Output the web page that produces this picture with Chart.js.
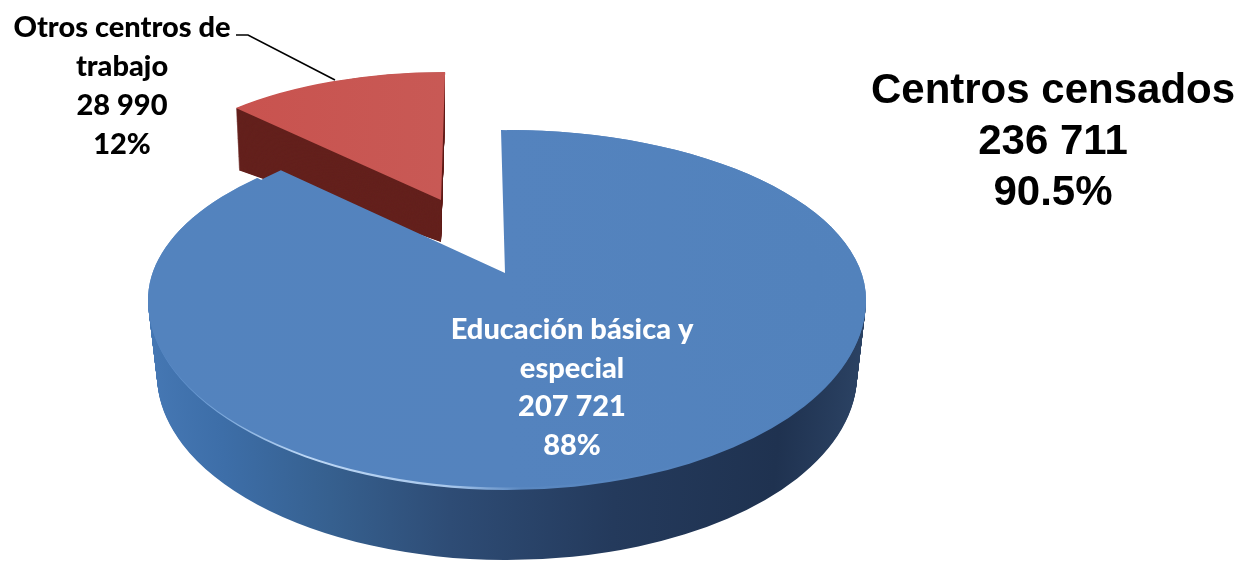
<!DOCTYPE html>
<html lang="es">
<head>
<meta charset="utf-8">
<title>Centros censados</title>
<script src="https://cdn.jsdelivr.net/npm/chart.js@4"></script>
<style>
  html, body { margin: 0; padding: 0; background: #fff; }
  canvas { display: block; filter: blur(0.6px); }
</style>
</head>
<body>
<canvas id="chartCentros" width="1243" height="561"></canvas>
<script>
const categories = ['Educación básica y especial', 'Otros centros de trabajo'];
const centerCounts = [207721, 28990];
const sharePercents = ['88%', '12%'];
const blueLabelLines = ['Educación básica y', 'especial'];
const redLabelLines = ['Otros centros de', 'trabajo'];
const titleLines = ['Centros censados', '236 711', '90.5%'];

// piece geometry on the page, the pie is perspective so nothing is a plain circle
const blueRim = { cx: 507, cy: 300, rx: 359, ryTop: 170, ryBottom: 190 };
const blueCore = { cx: 505, cy: 273, rx: 318, ryTop: 143, ryBottom: 143, shear: 0.028 };
const blueDepth = { drop: 75, rx: 350, ryBottom: 185 };
const redFace = { cx: 441, cy: 200, rx: 299, ryTop: 128, ryBottom: 128, shear: -0.032 };
const redDepth = { drop: 42, rx: 294, ryTop: 100 };

function fmtCount(n) {
  return String(n).replace(/\B(?=(\d{3})+$)/g, ' ');
}

function paintArc(ctx, arc, fill) {
  const saved = arc.options;
  arc.options = Object.assign({}, saved, { backgroundColor: fill, borderWidth: 0 });
  arc.draw(ctx);
  arc.options = saved;
}

function paintBand(ctx, arc, p, fill, band) {
  const R = arc.outerRadius;
  const ry = band === 'top' ? p.ryTop : p.ryBottom;
  ctx.save();
  ctx.beginPath();
  if (band === 'top') ctx.rect(0, 0, 1243, p.cy + 0.5);
  else ctx.rect(0, p.cy, 1243, 561);
  ctx.clip();
  ctx.translate(p.cx, p.cy);
  if (p.shear) ctx.transform(1, 0, p.shear, 1, 0, 0);
  ctx.scale(p.rx / R, ry / R);
  ctx.translate(-arc.x, -arc.y);
  paintArc(ctx, arc, fill);
  ctx.restore();
}

function sideGradient(ctx, arc, stops) {
  const R = arc.outerRadius;
  const g = ctx.createLinearGradient(arc.x - R, 0, arc.x + R, 0);
  stops.forEach(s => g.addColorStop(s[0], s[1]));
  return g;
}

function paintRed(ctx, arc) {
  const steps = redDepth.drop * 3;
  for (let i = steps; i >= 1; i--) {
    const t = i / steps;
    paintBand(ctx, arc, {
      cx: redFace.cx,
      cy: redFace.cy + redDepth.drop * t,
      rx: redFace.rx + (redDepth.rx - redFace.rx) * t,
      ryTop: redFace.ryTop + (redDepth.ryTop - redFace.ryTop) * t,
      shear: redFace.shear
    }, '#64211d', 'top');
  }
  const face = sideGradient(ctx, arc, [[0, '#c9504c'], [0.55, '#c85a56'], [1, '#bd5e5a']]);
  paintBand(ctx, arc, redFace, face, 'top');
}

function paintBlue(ctx, arc) {
  const side = sideGradient(ctx, arc, [
    [0, '#4577b3'], [0.1, '#3d6ea8'], [0.25, '#36608f'], [0.42, '#2e4c75'],
    [0.65, '#243a5c'], [0.88, '#1f3250'], [1, '#2b4263']
  ]);
  const steps = blueDepth.drop;
  for (let i = steps; i >= 1; i--) {
    const t = i / steps;
    paintBand(ctx, arc, {
      cx: blueRim.cx,
      cy: blueRim.cy + blueDepth.drop * t,
      rx: blueRim.rx + (blueDepth.rx - blueRim.rx) * t,
      ryBottom: blueRim.ryBottom + (blueDepth.ryBottom - blueRim.ryBottom) * t
    }, side, 'bottom');
  }
  // light bevel along the lower left edge of the top face
  const rim = sideGradient(ctx, arc, [
    [0, '#4f82c2'], [0.08, '#6e9dd4'], [0.22, '#bcd7f5'], [0.42, '#a9c8ec'],
    [0.52, '#5a88c1'], [1, '#4f7fba']
  ]);
  paintBand(ctx, arc, blueRim, rim, 'top');
  paintBand(ctx, arc, blueRim, rim, 'bottom');

  const face = sideGradient(ctx, arc, [[0, '#5383be'], [0.5, '#5483be'], [1, '#5282bc']]);
  const inner = Object.assign({}, blueRim, { ryBottom: blueRim.ryBottom - 2.4 });
  paintBand(ctx, arc, inner, face, 'top');
  paintBand(ctx, arc, inner, face, 'bottom');
  paintBand(ctx, arc, blueCore, face, 'top');
  paintBand(ctx, arc, blueCore, face, 'bottom');
}

function drawLines(ctx, lines, x, y, step) {
  lines.forEach((line, i) => ctx.fillText(line, x, y + i * step));
}

const piePainter = {
  id: 'piePainter',
  beforeDatasetDraw() {
    return false;
  },
  afterDatasetsDraw(chart) {
    const ctx = chart.ctx;
    const arcs = chart.getDatasetMeta(0).data;
    paintRed(ctx, arcs[1]);
    paintBlue(ctx, arcs[0]);

    // leader line
    ctx.save();
    ctx.strokeStyle = '#000';
    ctx.lineWidth = 1.6;
    ctx.beginPath();
    ctx.moveTo(236, 35);
    ctx.lineTo(248, 35);
    ctx.lineTo(335, 80);
    ctx.stroke();

    ctx.textAlign = 'center';
    ctx.textBaseline = 'middle';
    ctx.font = '900 29px Lato, "Open Sans", sans-serif';
    ctx.fillStyle = '#000';
    drawLines(ctx, redLabelLines.concat(fmtCount(centerCounts[1]), sharePercents[1]), 122, 28, 39);
    ctx.fillStyle = '#fff';
    drawLines(ctx, blueLabelLines.concat(fmtCount(centerCounts[0]), sharePercents[0]), 572, 330, 38.5);
    ctx.font = 'bold 42px "Liberation Sans", Arial, sans-serif';
    ctx.fillStyle = '#000';
    drawLines(ctx, titleLines, 1053, 91, 51);
    ctx.restore();
  }
};

new Chart(document.getElementById('chartCentros').getContext('2d'), {
  type: 'pie',
  data: {
    labels: categories,
    datasets: [{
      data: centerCounts,
      backgroundColor: ['#5383be', '#c85a56'],
      borderWidth: 0
    }]
  },
  options: {
    responsive: false,
    animation: false,
    plugins: {
      legend: { display: false },
      tooltip: { enabled: false }
    }
  },
  plugins: [piePainter]
});
</script>
</body>
</html>
